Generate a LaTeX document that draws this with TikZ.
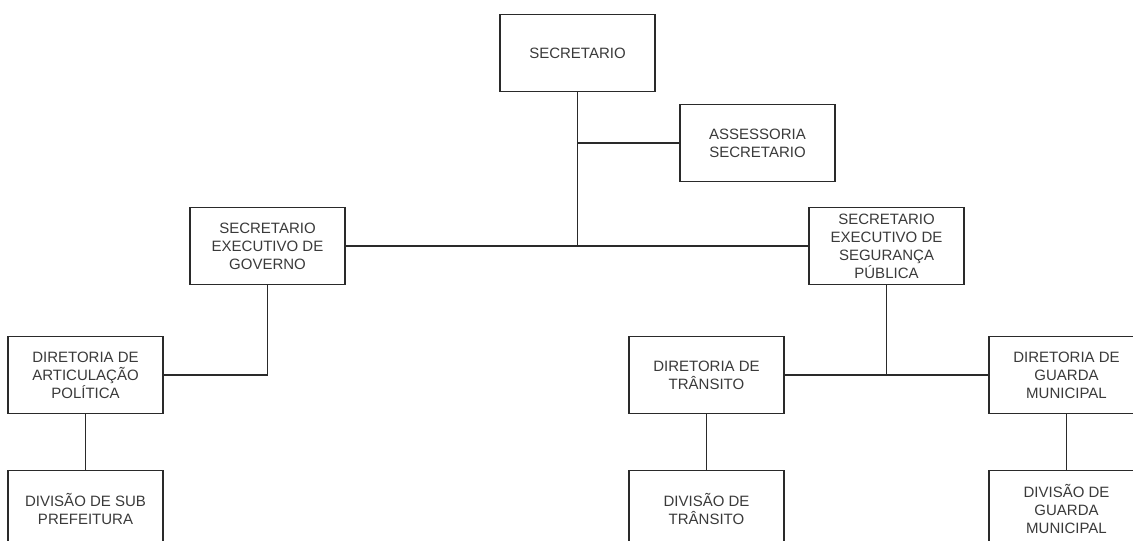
\documentclass[tikz,border=0pt]{standalone}
\usepackage{fontspec}
\setmainfont{Liberation Sans}
\usetikzlibrary{positioning}
\definecolor{boxtext}{HTML}{3A3A3A}
\definecolor{boxline}{HTML}{2A2A2A}
\begin{document}
\begin{tikzpicture}[
    font=\fontsize{15}{18}\selectfont,
    line width=1.1pt
  ]
\def\nw{155pt}
\def\nh{77pt}

\path[use as bounding box,fill=white] (0,0) rectangle (1133pt,-541pt);

\tikzstyle{box}=[draw=boxline,text=boxtext,align=center,inner sep=1pt,outer sep=0pt,minimum width=\nw,minimum height=\nh]

% topo
\node[box] at (577.5pt,-53pt) (sec) {SECRETARIO};
\node[box,below right = 13pt and 25pt of sec] (assess) {ASSESSORIA\\SECRETARIO};

% secretarios executivos
\node[box,below left = 116pt and 155pt of sec] (gov) {SECRETARIO\\EXECUTIVO DE\\GOVERNO};
\node[box,below right = 116pt and 154pt of sec] (seg) {SECRETARIO\\EXECUTIVO DE\\SEGURANÇA\\PÚBLICA};

% diretorias
\node[box,below left = 52pt and 27pt of gov] (dart) {DIRETORIA DE\\ARTICULAÇÃO\\POLÍTICA};
\node[box,below left = 52pt and 25pt of seg] (dtran) {DIRETORIA DE\\TRÂNSITO};
\node[box,below right = 52pt and 25pt of seg] (dguar) {DIRETORIA DE\\GUARDA\\MUNICIPAL};

% divisoes
\tikzstyle{div}=[node distance=57pt]
\node[box,div,below = of dart] (vsub) {DIVISÃO DE SUB\\PREFEITURA};
\node[box,div,below = of dtran] (vtran) {DIVISÃO DE\\TRÂNSITO};
\node[box,div,below = of dguar] (vguar) {DIVISÃO DE\\GUARDA\\MUNICIPAL};

\coordinate (hub) at (sec.south |- gov.east);
\coordinate (aux) at (seg.south |- dtran.east);

\draw[-,boxline] (sec.south) -- (hub);
\draw[-,boxline] (assess.west) -- (assess.west -| hub);
\draw[-,boxline] (gov.east) -- (seg.west);

\draw[-,boxline] (gov.south) |- (dart.east);
\draw[-,boxline] (dart.south) -- (vsub.north);

\draw[-,boxline] (seg.south) -- (aux);
\draw[-,boxline] (dtran.east) -- (dguar.west);
\draw[-,boxline] (dtran.south) -- (vtran.north);
\draw[-,boxline] (dguar.south) -- (vguar.north);

\end{tikzpicture}
\end{document}
